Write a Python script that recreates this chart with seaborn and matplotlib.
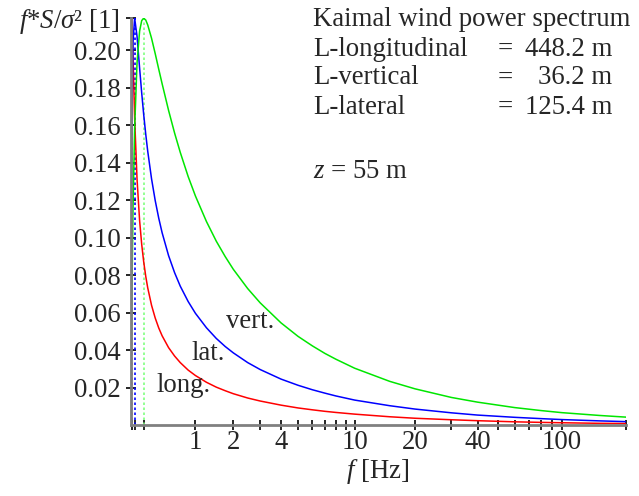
import numpy as np
import pandas as pd
import matplotlib
matplotlib.use('Agg')
import matplotlib.pyplot as plt
import seaborn as sns

# frequencies [Hz] and f*S/sigma^2
freq = [0, 0.002, 0.005, 0.012, 0.025, 0.043, 0.07, 0.1, 0.125, 0.149, 0.175, 0.2, 0.25,
        0.3, 0.35, 0.4, 0.5, 0.6, 0.7, 0.85, 1, 1.25, 1.5, 1.75, 2, 2.5, 3, 4, 5, 6, 7, 8,
        10, 15, 20, 30, 40, 60, 80, 100, 150, 200]
s_long = [0, 0.1146, 0.1852, 0.2171, 0.1966, 0.1637, 0.1314, 0.1091, 0.0964, 0.0872, 0.0793,
          0.0732, 0.0639, 0.0571, 0.0518, 0.0476, 0.0413, 0.0368, 0.0333, 0.0293, 0.0264,
          0.0228, 0.0202, 0.0183, 0.0167, 0.0144, 0.0128, 0.0106, 0.0091, 0.0081, 0.0073,
          0.0067, 0.0058, 0.0044, 0.0036, 0.0028, 0.0023, 0.0017, 0.0014, 0.0012, 0.0009, 0.0008]
s_lat = [0, 0.0415, 0.0889, 0.1557, 0.2044, 0.2172, 0.2075, 0.1905, 0.1772, 0.1658, 0.1551,
         0.1461, 0.1314, 0.1198, 0.1104, 0.1026, 0.0904, 0.0813, 0.0741, 0.0659, 0.0596,
         0.0519, 0.0462, 0.0419, 0.0385, 0.0333, 0.0296, 0.0245, 0.0212, 0.0188, 0.0170,
         0.0155, 0.0133, 0.0103, 0.0085, 0.0065, 0.0053, 0.0041, 0.0034, 0.0029, 0.0022, 0.0018]
s_vert = [0, 0.0130, 0.0309, 0.0665, 0.1153, 0.1584, 0.1931, 0.2102, 0.2158, 0.2171, 0.2161,
          0.2135, 0.2064, 0.1982, 0.1899, 0.1821, 0.1679, 0.1558, 0.1455, 0.1326, 0.1222,
          0.1086, 0.0981, 0.0899, 0.0831, 0.0728, 0.0652, 0.0545, 0.0473, 0.0422, 0.0382,
          0.0351, 0.0303, 0.0233, 0.0193, 0.0147, 0.0122, 0.0093, 0.0077, 0.0066, 0.0051, 0.0042]

components = ['long', 'lat', 'vert']
peak_freq = [0.012, 0.043, 0.149]
peak_val = [0.2171, 0.2172, 0.2171]
colors = {'long': '#ff0000', 'lat': '#0000ff', 'vert': '#00e600'}
dot_colors = ['#ff6060', '#0000ff', '#80ff80']

yticks = [0.02, 0.04, 0.06, 0.08, 0.10, 0.12, 0.14, 0.16, 0.18, 0.20, 0.2172]
ytick_labels = ['0.02', '0.04', '0.06', '0.08', '0.10', '0.12', '0.14', '0.16', '0.18', '0.20',
                r'$f$*$S/\sigma$² [1]']
xticks = [1, 2, 4, 10, 20, 40, 100]
xminor = [3, 5, 6, 7, 8, 9, 30, 50, 60, 70, 80, 90, 200]

sns.set_style('ticks')
plt.rcParams['font.family'] = ['Liberation Serif', 'DejaVu Serif']
plt.rcParams['mathtext.fontset'] = 'custom'
plt.rcParams['mathtext.rm'] = 'Liberation Serif'
plt.rcParams['mathtext.it'] = 'Liberation Serif:italic'

W, H = 639, 496
fig = plt.figure(figsize=(W / 100, H / 100), dpi=100)
x0, x1, y0, y1 = 130.7, 626, 425, 18
ax = fig.add_axes([x0 / W, 1 - y0 / H, (x1 - x0) / W, (y0 - y1) / H])
ax.set_xscale('function', functions=(np.log1p, np.expm1))

df = pd.DataFrame({
    'f': freq * 3,
    'S': s_long + s_lat + s_vert,
    'comp': [c for c in components for _ in freq],
})

for fp, pv, c in zip(peak_freq, peak_val, dot_colors):
    ax.vlines(fp, 0, pv, colors=c, linestyles=(0, (1.5, 1.5)), lw=1.2)

sns.lineplot(data=df, x='f', y='S', hue='comp', palette=colors, legend=False,
             lw=1.1, ax=ax, sort=False)

ax.set_xlim(0, 200)
ax.set_ylim(0, 0.2172)
ax.set_xticks(xticks)
ax.set_xticklabels([str(t) for t in xticks])
ax.set_xticks(xminor + peak_freq, minor=True)
ax.set_yticks(yticks)
ax.set_yticklabels(ytick_labels)
ax.set_xlabel('')
ax.set_ylabel('')

for s in ['top', 'right']:
    ax.spines[s].set_visible(False)
for s in ['left', 'bottom']:
    ax.spines[s].set_color('#808080')
    ax.spines[s].set_linewidth(2)

fs = 19.3
ax.tick_params(axis='both', which='both', direction='inout', length=7, width=1.2,
               color='black', labelsize=fs)
ax.tick_params(axis='x', which='major', pad=0)
ax.tick_params(axis='y', which='major', pad=4)


def px(x, y):
    return x / W, 1 - y / H


fig.text(*px(378, 472), r'$f$ [Hz]', ha='center', va='center', fontsize=fs)

fig.text(*px(313, 20), 'Kaimal wind power spectrum', ha='left', va='center', fontsize=fs)
rows = [('L-longitudinal', '448.2 m'), ('L-vertical', '36.2 m'), ('L-lateral', '125.4 m')]
for i, (name, val) in enumerate(rows):
    yy = 49 + 29 * i
    fig.text(*px(313, yy), name, ha='left', va='center', fontsize=fs)
    fig.text(*px(498, yy), '=', ha='left', va='center', fontsize=fs)
    fig.text(*px(612, yy), val, ha='right', va='center', fontsize=fs)
fig.text(*px(313, 172), r'$z$ = 55 m', ha='left', va='center', fontsize=fs)

fig.text(*px(226, 321), 'vert.', ha='left', va='center', fontsize=fs)
fig.text(*px(191, 353), 'lat.', ha='left', va='center', fontsize=fs)
fig.text(*px(156, 385), 'long.', ha='left', va='center', fontsize=fs)

fig.savefig('out.png', dpi=100)
